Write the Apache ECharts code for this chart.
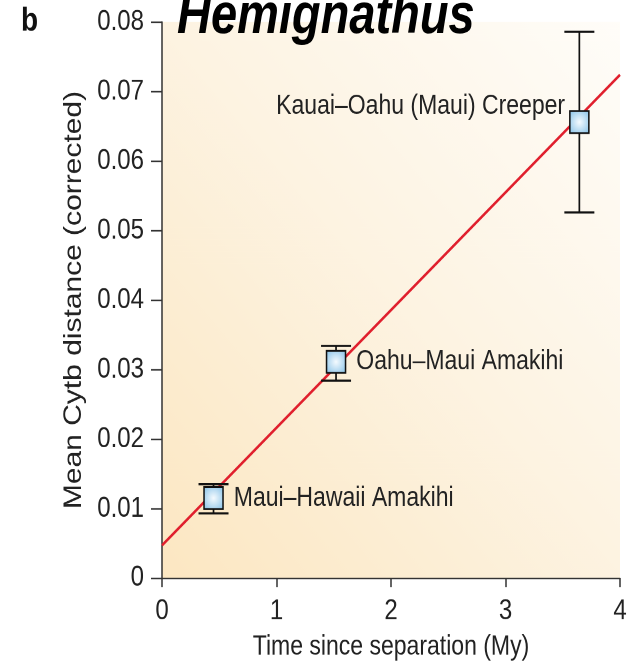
<!DOCTYPE html>
<html>
<head>
<meta charset="utf-8">
<script src="https://cdn.jsdelivr.net/npm/echarts@6/dist/echarts.min.js"></script>
<style>
  html, body { margin: 0; padding: 0; background: #ffffff; width: 635px; height: 669px; overflow: hidden; }
  #page { position: relative; width: 635px; height: 669px; }
  /* The figure is laid out on a shorter canvas and stretched vertically,
     which gives the tall, narrow lettering of the printed plate. */
  #chart {
    position: absolute;
    left: 0;
    top: 0;
    width: 635px;
    height: 558px;
    transform: scaleY(1.19892);
    transform-origin: 0 0;
  }
</style>
</head>
<body>
<div id="page"><div id="chart"></div></div>
<script>
// Species pairs and their divergence estimates
const pairs = ['Maui–Hawaii Amakihi', 'Oahu–Maui Amakihi', 'Kauai–Oahu (Maui) Creeper'];
const timeMy = [0.45, 1.52, 3.645];
const meanDist = [0.0115, 0.0311, 0.0656];
const errLow = [0.0093, 0.0284, 0.0526];
const errHigh = [0.0135, 0.0334, 0.0786];

// Regression line end points
const fitX = [0, 4];
const fitY = [0.0047, 0.0724];

// Axis tick labels
const xTickLabels = ['0', '1', '2', '3', '4'];
const yTickLabels = ['0', '0.01', '0.02', '0.03', '0.04', '0.05', '0.06', '0.07', '0.08'];

const SANS = "'Liberation Sans', Arial, Helvetica, sans-serif";
const INK = '#222';

const points = pairs.map((name, i) => ({ name: name, value: [timeMy[i], meanDist[i]] }));
const bars = pairs.map((name, i) => [timeMy[i], errLow[i], errHigh[i]]);
const fitLine = fitX.map((x, i) => [x, fitY[i]]);

const chart = echarts.init(document.getElementById('chart'), null, {
  renderer: 'canvas',
  devicePixelRatio: 2
});

chart.setOption({
  animation: false,
  backgroundColor: '#ffffff',
  title: [
    {
      text: 'b',
      left: 16,
      top: -1,
      textStyle: { fontFamily: SANS, fontSize: 28, fontWeight: 'bold', color: '#111' }
    },
    {
      text: 'Hemignathus',
      left: 172,
      top: -14,
      textStyle: { fontFamily: SANS, fontSize: 47, fontWeight: 'bold', fontStyle: 'italic', color: '#000' }
    }
  ],
  grid: {
    left: 162, right: 15, top: 18.35, bottom: 75.9,
    show: true,
    borderWidth: 0,
    backgroundColor: new echarts.graphic.LinearGradient(0, 1, 1, 0, [
      { offset: 0, color: '#fce7c2' },
      { offset: 0.5, color: '#fdf3e1' },
      { offset: 1, color: '#fffdf9' }
    ])
  },
  xAxis: {
    type: 'value',
    min: 0, max: 4, interval: 1,
    name: 'Time since separation (My)',
    nameLocation: 'middle',
    nameGap: 46,
    nameTextStyle: { fontFamily: SANS, fontSize: 23, color: INK },
    axisLine: { show: true, lineStyle: { color: '#333', width: 1.3 } },
    axisTick: { show: true, length: 7.5, lineStyle: { color: '#333', width: 1.5 } },
    splitLine: { show: false },
    axisLabel: {
      fontFamily: SANS, fontSize: 24, color: INK, margin: 16,
      formatter: v => xTickLabels[Math.round(v)]
    }
  },
  yAxis: {
    type: 'value',
    min: 0, max: 0.08, interval: 0.01,
    name: 'Mean Cytb distance (corrected)',
    nameLocation: 'middle',
    nameGap: 70,
    nameTextStyle: { fontFamily: SANS, fontSize: 25, color: INK },
    axisLine: { show: true, lineStyle: { color: '#333', width: 1.5 } },
    axisTick: { show: true, length: 11, lineStyle: { color: '#333', width: 1.3 } },
    splitLine: { show: false },
    axisLabel: {
      fontFamily: SANS, fontSize: 24, color: INK, margin: 18,
      formatter: v => yTickLabels[Math.round(v / 0.01)]
    }
  },
  series: [
    {
      type: 'line',
      data: fitLine,
      symbol: 'none',
      lineStyle: { color: '#e01f2d', width: 2.3 },
      z: 2,
      silent: true
    },
    {
      type: 'custom',
      data: bars,
      z: 3,
      silent: true,
      renderItem: function (params, api) {
        const x = api.value(0);
        const lo = api.coord([x, api.value(1)]);
        const hi = api.coord([x, api.value(2)]);
        const half = 15;
        const capStyle = { stroke: '#111', lineWidth: 1.8 };
        return {
          type: 'group',
          children: [
            { type: 'line', shape: { x1: lo[0], y1: lo[1], x2: hi[0], y2: hi[1] }, style: { stroke: '#111', lineWidth: 1.7 } },
            { type: 'line', shape: { x1: lo[0] - half, y1: lo[1], x2: lo[0] + half, y2: lo[1] }, style: capStyle },
            { type: 'line', shape: { x1: hi[0] - half, y1: hi[1], x2: hi[0] + half, y2: hi[1] }, style: capStyle }
          ]
        };
      }
    },
    {
      type: 'scatter',
      data: points,
      symbol: 'rect',
      symbolSize: [19, 18.3],
      z: 4,
      itemStyle: {
        color: new echarts.graphic.RadialGradient(0.5, 0.5, 0.7, [
          { offset: 0, color: '#f5fbff' },
          { offset: 1, color: '#80bee6' }
        ]),
        borderColor: '#111',
        borderWidth: 1.5,
        opacity: 1
      },
      label: {
        show: true,
        formatter: p => p.name,
        fontFamily: SANS,
        fontSize: 23,
        color: INK,
        position: 'right',
        distance: 10
      },
      labelLayout: function (params) {
        if (params.dataIndex === 2) {
          return {
            x: params.rect.x - 4,
            y: params.rect.y - 3.5,
            align: 'right',
            verticalAlign: 'middle'
          };
        }
        return {};
      }
    }
  ]
});
</script>
</body>
</html>
